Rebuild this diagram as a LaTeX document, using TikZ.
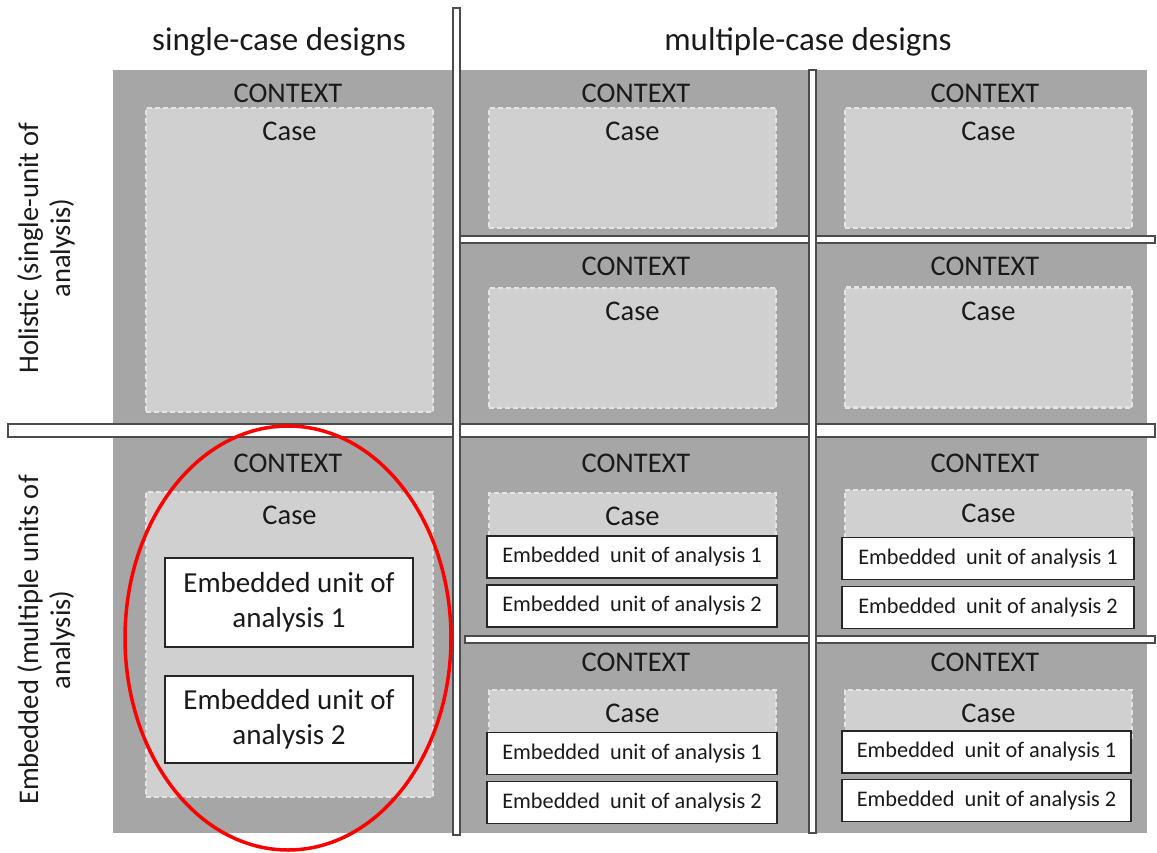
\documentclass[tikz,border=0pt]{standalone}
\usepackage{fontspec}
\setmainfont{Carlito}
\usetikzlibrary{shapes.geometric}

\definecolor{ctxgrey}{HTML}{A6A6A6}
\definecolor{casegrey}{HTML}{D0D0D0}
\definecolor{casedash}{HTML}{E4E4E4}
\definecolor{txtgrey}{HTML}{1A1A1A}

\tikzset{
  context/.style={font=\fontsize{28.5}{32}\selectfont,text=txtgrey,inner sep=0pt},
  header/.style={context,font=\fontsize{33}{36}\selectfont},
  casebox/.style={fill=casegrey,draw=casedash,line width=2.5pt,dash pattern=on 5pt off 3pt,
    inner sep=0pt,minimum width=287pt,
    label={[anchor=north,yshift=-12pt,font=\fontsize{28.5}{32}\selectfont,text=txtgrey]north:Case}},
  unitbig/.style={draw=black!85,fill=white,line width=1.2pt,minimum width=248pt,
    align=center,font=\fontsize{29}{35}\selectfont,text=txtgrey,inner sep=0pt},
  unitsmall/.style={draw=black!85,fill=white,line width=1.2pt,minimum height=42pt,
    font=\fontsize{22.3}{25}\selectfont,text=txtgrey,inner sep=0pt},
  bar/.style={draw=black!70,fill=white,line width=1.2pt}
}

\begin{document}
\begin{tikzpicture}[x=1pt,y=-1pt]
\useasboundingbox (0,0) rectangle (1157,852);

% grey background
\fill [ctxgrey] (113,70) rectangle (1147,833);

% horizontal separators
\draw [bar] (8,424) rectangle (1155,437);
\draw [bar] (460,236) rectangle (1155,243);
\draw [bar] (465,636) rectangle (1155,643);
% vertical separators
\draw [bar] (453,8) rectangle (460,835);
\draw [bar] (809,70) rectangle (816,833);

% headers
\node [header] (single)   at (279,42) {single-case designs};
\node [header] (multiple) at (808,42) {multiple-case designs};
\node [context,rotate=90,align=center] (holistic) at (46,248)
	{Holistic (single-unit of\\ analysis)};
\node [context,rotate=90,align=center] (embedded) at (46,640)
	{Embedded (multiple units of\\ analysis)};

% holistic cases
\node [casebox,minimum height=304pt] (caseA) at (289.5,260) {};
\node [casebox,minimum height=120pt] (caseB) at (632.5,168) {};
\node [casebox,minimum height=120pt] (caseC) at (988.5,168) {};
\node [casebox,minimum height=120pt] (caseD) at (632.5,348) {};
\node [casebox,minimum height=120pt] (caseE) at (988.5,347.5) {};

% embedded cases
\node [casebox,minimum height=305pt] (caseF) at (289.5,644.5) {};
\node [casebox,minimum height=52pt]  (caseG) at (632.5,519) {};
\node [casebox,minimum height=55pt]  (caseH) at (988.5,517.5) {};
\node [casebox,minimum height=50pt]  (caseI) at (632.5,715) {};
\node [casebox,minimum height=50pt]  (caseJ) at (988.5,715) {};

% contexts
\node [context] (ctxA) at (288,93)  {CONTEXT};
\node [context] (ctxB) at (636,93)  {CONTEXT};
\node [context] (ctxC) at (985,93)  {CONTEXT};
\node [context] (ctxD) at (636,266) {CONTEXT};
\node [context] (ctxE) at (985,266) {CONTEXT};
\node [context] (ctxF) at (288,463) {CONTEXT};
\node [context] (ctxG) at (636,463) {CONTEXT};
\node [context] (ctxH) at (985,463) {CONTEXT};
\node [context] (ctxI) at (636,662) {CONTEXT};
\node [context] (ctxJ) at (985,662) {CONTEXT};

% embedded units
\node [unitbig,minimum height=89pt] (unitF1) at (289,602.5) {Embedded unit of\\ analysis 1};
\node [unitbig,minimum height=87pt] (unitF2) at (289,719.5) {Embedded unit of\\ analysis 2};
\node [unitsmall,minimum width=290pt] (unitG1) at (632,557)   {Embedded\ \ unit of analysis 1};
\node [unitsmall,minimum width=290pt] (unitG2) at (632,606)   {Embedded\ \ unit of analysis 2};
\node [unitsmall,minimum width=292pt] (unitH1) at (988,558.5) {Embedded\ \ unit of analysis 1};
\node [unitsmall,minimum width=292pt] (unitH2) at (988,607.5) {Embedded\ \ unit of analysis 2};
\node [unitsmall,minimum width=290pt] (unitI1) at (632,753.5) {Embedded\ \ unit of analysis 1};
\node [unitsmall,minimum width=290pt] (unitI2) at (632,802.5) {Embedded\ \ unit of analysis 2};
\node [unitsmall,minimum width=289pt] (unitJ1) at (986.5,752) {Embedded\ \ unit of analysis 1};
\node [unitsmall,minimum width=289pt] (unitJ2) at (986.5,800.5) {Embedded\ \ unit of analysis 2};

% highlight
\node [draw=red,line width=3.5pt,ellipse,minimum width=326pt,minimum height=424pt,inner sep=0pt]
	(focus) at (288,638) {};
\end{tikzpicture}
\end{document}
